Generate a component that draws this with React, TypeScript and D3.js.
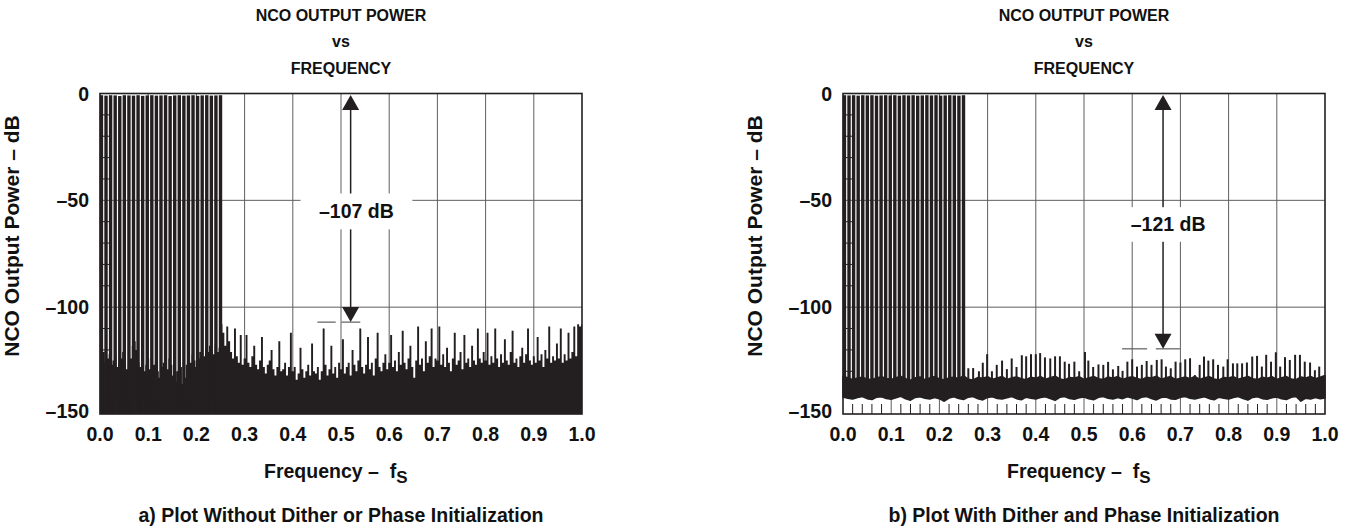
import React from "react";
import * as d3 from "d3";

const FONT = "'Liberation Sans', Arial, Helvetica, sans-serif";
const INK = "#231f20";
const GRID = "#5e5e5e";

// ---------- axes / text ----------
const yTickValues = [0, -50, -100, -150];
const yTickLabels = ["0", "–50", "–100", "–150"];
const yMinorTicks = [-10, -20, -30, -40, -60, -70, -80, -90, -110, -120, -130, -140];
const xTickValues = [0, 0.1, 0.2, 0.3, 0.4, 0.5, 0.6, 0.7, 0.8, 0.9, 1.0];
const xTickLabels = ["0.0", "0.1", "0.2", "0.3", "0.4", "0.5", "0.6", "0.7", "0.8", "0.9", "1.0"];
const xMinorTicks = [
  0.02, 0.04, 0.06, 0.08, 0.12, 0.14, 0.16, 0.18, 0.22, 0.24, 0.26, 0.28, 0.32, 0.34, 0.36, 0.38,
  0.42, 0.44, 0.46, 0.48, 0.52, 0.54, 0.56, 0.58, 0.62, 0.64, 0.66, 0.68, 0.72, 0.74, 0.76, 0.78,
  0.82, 0.84, 0.86, 0.88, 0.92, 0.94, 0.96, 0.98,
];
const xGrid = [0.1, 0.2, 0.3, 0.4, 0.5, 0.6, 0.7, 0.8, 0.9];
const yGrid = [-50, -100];

const titleLines = ["NCO OUTPUT POWER", "vs", "FREQUENCY"];
const yAxisTitle = "NCO Output Power – dB";
const xAxisTitle = "Frequency –  f";
const xAxisTitleSub = "S";
const captionA = "a) Plot Without Dither or Phase Initialization";
const captionB = "b) Plot With Dither and Phase Initialization";

// ---------- data: in-band tones (both plots) ----------
const toneFreqs = [
  0.003, 0.0125, 0.022, 0.0315, 0.041, 0.0505, 0.06, 0.0695, 0.079, 0.0885, 0.098, 0.1075, 0.117,
  0.1265, 0.136, 0.1455, 0.155, 0.1645, 0.174, 0.1835, 0.193, 0.2025, 0.212, 0.2215, 0.231, 0.2405, 0.25,
];
const toneLevelsA = [
  -0.8, -1.0, -0.8, -0.9, -1.2, -0.8, -0.9, -1.0, -0.8, -1.1, -0.9, -0.8, -1.0, -0.9,
  -0.8, -1.2, -0.9, -0.8, -1.0, -0.9, -0.8, -1.1, -0.9, -0.8, -1.0, -0.9, -0.8,
];
const toneLevelsB = [
  -0.8, -0.9, -0.8, -1.0, -0.8, -0.9, -0.8, -1.0, -0.9, -0.8, -0.9, -0.8, -1.0, -0.8,
  -0.9, -0.8, -1.0, -0.9, -0.8, -0.9, -0.8, -1.0, -0.9, -0.8, -0.9, -1.0, -0.8,
];

// ---------- data: plot a) noise spectrum, bins of 0.004 fs ----------
const noiseBinA = 0.004;
const noiseLevelsA = [
  -118, -120, -121, -126, -124, -122, -127, -125, -123, -128, -126, -124, -121, -125, -129, -127, -124, -118, -116, -120, -126, -128, -125, -130, -127,
  -124, -129, -131, -127, -125, -130, -133, -128, -126, -131, -129, -124, -127, -132, -135, -130, -126, -128, -136, -133, -127, -124, -126, -122, -125,
  -128, -124, -121, -125, -123, -119, -121, -118, -120, -122, -117, -121, -119, -108, -112, -118, -109, -116, -121, -124, -110, -123, -126, -113, -127,
  -124, -113, -126, -128, -123, -118, -127, -129, -125, -114, -128, -131, -127, -125, -120, -129, -132, -128, -116, -130, -129, -126, -132, -128, -112,
  -130, -128, -134, -131, -119, -129, -133, -130, -127, -132, -117, -130, -131, -128, -134, -130, -110, -127, -132, -129, -118, -131, -128, -133, -126,
  -129, -115, -131, -128, -126, -132, -120, -127, -130, -125, -110, -128, -131, -127, -114, -129, -126, -132, -124, -112, -128, -130, -126, -122, -129,
  -126, -113, -128, -125, -130, -121, -127, -111, -126, -129, -124, -118, -128, -133, -125, -109, -127, -124, -130, -116, -126, -123, -110, -128, -124,
  -125, -109, -127, -122, -128, -119, -126, -130, -124, -112, -127, -125, -121, -129, -113, -126, -124, -128, -118, -125, -127, -110, -124, -126, -121,
  -125, -112, -127, -123, -126, -110, -124, -128, -122, -126, -115, -125, -127, -121, -111, -126, -124, -128, -123, -119, -126, -122, -110, -125, -127,
  -123, -126, -114, -125, -122, -128, -120, -124, -109, -126, -123, -125, -117, -124, -110, -126, -122, -125, -112, -124, -121, -109, -123, -108, -109,
  -108,
];

// ---------- data: plot b) noise band edges, bins of 0.01 fs ----------
const bandBinB = 0.01;
const bandUpperB = [
  -132.5, -133, -134, -133.2, -132.8, -133.6, -134, -133, -132.6, -133.4,
  -133.8, -133, -132.4, -133.5, -134.2, -133.1, -132.7, -133.9, -133.2, -132.5,
  -133.6, -134, -133.1, -132.8, -133.4, -132.2, -133.7, -134.1, -132.9, -133.3,
  -132.6, -133.8, -133.2, -132.4, -133.9, -133.1, -132.7, -133.5, -134, -132.8,
  -133.3, -132.5, -133.7, -133, -132.3, -133.6, -134.1, -132.9, -133.2, -132.6,
  -133.8, -133.1, -132.4, -133.5, -133.9, -132.7, -133.3, -132.5, -133.8, -133,
  -132.6, -133.4, -134, -132.8, -133.2, -132.3, -133.7, -133.1, -132.5, -133.9,
  -133.3, -132.7, -133.5, -132.4, -133.8, -133, -132.6, -133.6, -134.1, -132.9,
  -133.2, -132.5, -133.7, -133.1, -132.4, -133.5, -133.9, -132.8, -133.3, -132.6,
  -133.8, -133, -132.5, -133.6, -134, -132.7, -133.2, -132.4, -133.5, -132.8, -132,
];
const bandLowerB = [
  -142, -142.6, -143, -142.3, -141.8, -142.8, -143.2, -142.1, -141.9, -142.7,
  -143.1, -142.4, -141.7, -142.9, -143.5, -142.2, -141.9, -142.6, -143, -142.3,
  -142.8, -144, -142.5, -141.9, -142.7, -143.2, -142.1, -141.8, -142.9, -143.4,
  -142.2, -141.9, -142.7, -143, -142.4, -141.8, -142.8, -143.3, -142.1, -142.6,
  -143, -142.3, -141.9, -142.8, -143.6, -142.2, -141.8, -142.7, -143.1, -142.4,
  -142, -142.9, -143.3, -142.2, -141.8, -142.6, -143, -142.3, -142.8, -141.9,
  -142.5, -143.2, -142.1, -141.8, -142.7, -143.4, -142.3, -142, -142.9, -143.1,
  -142.2, -141.8, -142.6, -143, -142.4, -141.9, -142.8, -143.3, -142.1, -142.6,
  -143, -142.3, -141.8, -142.7, -143.5, -142.2, -141.9, -142.8, -143.1, -142.4,
  -142, -142.9, -143.2, -142.2, -141.8, -144, -142.6, -143, -142.3, -142.8, -142.5,
];

// ---------- data: plot b) spurs above the band ----------
const spurFreqsB = [
  0.002, 0.26, 0.27, 0.282, 0.29, 0.299, 0.309, 0.319, 0.33, 0.34, 0.35, 0.36, 0.371, 0.38, 0.39,
  0.4, 0.409, 0.419, 0.43, 0.44, 0.45, 0.46, 0.469, 0.48, 0.49, 0.502, 0.509, 0.519, 0.53, 0.54,
  0.55, 0.56, 0.571, 0.58, 0.59, 0.6, 0.61, 0.62, 0.63, 0.64, 0.651, 0.661, 0.67, 0.68, 0.69,
  0.7, 0.71, 0.72, 0.73, 0.74, 0.749, 0.758, 0.768, 0.778, 0.789, 0.798, 0.809, 0.818, 0.828,
  0.838, 0.849, 0.859, 0.869, 0.878, 0.888, 0.898, 0.907, 0.917, 0.927, 0.938, 0.948, 0.958,
  0.969, 0.979, 0.988,
];
const spurLevelsB = [
  -124, -128.6, -128.5, -130, -126, -122, -130, -127, -125, -129, -124, -128, -122.5, -123, -122,
  -122, -121.5, -123.5, -124, -123, -123, -125.5, -126.5, -125.5, -130, -121, -125, -128, -126.8, -127,
  -125.6, -129.1, -127.5, -129.8, -125.5, -124.4, -127.8, -127, -125.2, -127, -124.7, -124.4, -127.8, -128.6, -125.5,
  -125.9, -124.4, -123.9, -131.8, -127, -123.1, -125, -124.4, -127, -127.8, -124.4, -126.3, -126.3, -126.3,
  -125.9, -123.1, -122.8, -127.8, -122.3, -125.5, -121.1, -127.8, -123.4, -124.7, -122.3, -122.3, -125.5,
  -125.9, -129.5, -127.8,
];

// ---------- annotations (data units) ----------
const annotA = {
  label: "–107 dB",
  arrowF: 0.52,
  level: -107,
  dash: [[0.451, 0.489], [0.501, 0.54]],
  boxF: [0.416, 0.648],
  boxDb: [-46.8, -63.6],
};
const annotB = {
  label: "–121 dB",
  arrowF: 0.664,
  level: -119.5,
  dash: [[0.579, 0.631], [0.649, 0.699]],
  boxF: [0.575, 0.774],
  boxDb: [-53.2, -69.4],
};

const PLOT_W = 482;
const TOP = 93.5;
const BOTTOM = 414;
const FS = 19.5;
const TITLE_FS = 16;

function Panel({ left, variant }: { left: number; variant: "A" | "B" }) {
  const x = d3.scaleLinear().domain([0, 1]).range([left, left + PLOT_W]);
  const y = d3.scaleLinear().domain([0, -150]).range([TOP, BOTTOM]);
  const cx = left + PLOT_W / 2;
  const annot = variant === "A" ? annotA : annotB;
  const toneLevels = variant === "A" ? toneLevelsA : toneLevelsB;

  let spectrum: React.ReactNode = null;
  if (variant === "A") {
    const area = d3
      .area<number>()
      .x((_, i) => x(i * noiseBinA))
      .y0(y(-150))
      .y1((d) => y(d))
      .curve(d3.curveStep);
    spectrum = (
      <g>
        <path d={area(noiseLevelsA) || ""} fill={INK} />
        {toneFreqs.map((f, i) => (
          <rect key={i} x={x(f) - 1.7} width={3.4} y={y(toneLevels[i])} height={y(-150) - y(toneLevels[i])} fill={INK} />
        ))}
      </g>
    );
  } else {
    const band = d3
      .area<number>()
      .x((_, i) => x(i * bandBinB))
      .y0((_, i) => y(bandLowerB[i]))
      .y1((d) => y(d));
    spectrum = (
      <g>
        {toneFreqs.map((f, i) => (
          <rect key={i} x={x(f) - 1.7} width={3.4} y={y(toneLevels[i])} height={y(-137) - y(toneLevels[i])} fill={INK} />
        ))}
        {spurFreqsB.map((f, i) => (
          <line key={"s" + i} x1={x(f)} x2={x(f)} y1={y(spurLevelsB[i])} y2={y(-137)} stroke={INK} strokeWidth={2} />
        ))}
        <path d={band(bandUpperB) || ""} fill={INK} stroke={INK} strokeWidth={1.6} strokeLinejoin="round" />
      </g>
    );
  }

  const ax = x(annot.arrowF);
  const tipTop = y(0) + 1.5;
  const tipBot = y(annot.level);
  const bx0 = x(annot.boxF[0]);
  const bx1 = x(annot.boxF[1]);
  const by0 = y(annot.boxDb[0]);
  const by1 = y(annot.boxDb[1]);

  return (
    <g fontFamily={FONT} fontWeight="bold" fill="#111">
      {/* titles */}
      {titleLines.map((t, i) => (
        <text key={i} x={cx} y={[21, 47, 74][i]} textAnchor="middle" fontSize={TITLE_FS} fill="#111">
          {t}
        </text>
      ))}
      {/* grid */}
      {xGrid.map((g) => (
        <line key={"gx" + g} x1={x(g)} x2={x(g)} y1={TOP} y2={BOTTOM} stroke={GRID} strokeWidth={1} />
      ))}
      {yGrid.map((g) => (
        <line key={"gy" + g} x1={left} x2={left + PLOT_W} y1={y(g)} y2={y(g)} stroke={GRID} strokeWidth={1} />
      ))}
      {spectrum}
      {/* annotation */}
      <line x1={x(annot.dash[0][0])} x2={x(annot.dash[0][1])} y1={tipBot} y2={tipBot} stroke={GRID} strokeWidth={1.2} />
      <line x1={x(annot.dash[1][0])} x2={x(annot.dash[1][1])} y1={tipBot} y2={tipBot} stroke={GRID} strokeWidth={1.2} />
      <line x1={ax} x2={ax} y1={tipTop + 14} y2={tipBot - 14} stroke={INK} strokeWidth={1.5} />
      <path d={`M${ax},${tipTop} L${ax - 8.5},${tipTop + 15} L${ax + 8.5},${tipTop + 15} Z`} fill={INK} />
      <path d={`M${ax},${tipBot} L${ax - 8.5},${tipBot - 15} L${ax + 8.5},${tipBot - 15} Z`} fill={INK} />
      <rect x={bx0} y={by0} width={bx1 - bx0} height={by1 - by0} fill="#fff" />
      <text x={(bx0 + bx1) / 2} y={(by0 + by1) / 2 + 7} textAnchor="middle" fontSize={FS} fill="#111">
        {annot.label}
      </text>
      {/* minor ticks */}
      {yMinorTicks.map((t) => (
        <line key={"my" + t} x1={left} x2={left + 10} y1={y(t)} y2={y(t)} stroke={INK} strokeWidth={1} />
      ))}
      {xMinorTicks.map((t) => (
        <line key={"mx" + t} x1={x(t)} x2={x(t)} y1={BOTTOM} y2={BOTTOM - 10} stroke={INK} strokeWidth={1} />
      ))}
      {/* frame */}
      <rect x={left} y={TOP} width={PLOT_W} height={BOTTOM - TOP} fill="none" stroke={INK} strokeWidth={1.6} />
      {/* tick labels */}
      {yTickValues.map((v, i) => (
        <text key={"yl" + v} x={left - 11} y={y(v) + (v === -150 ? 3.5 : 7)} textAnchor="end" fontSize={FS} fill="#111">
          {yTickLabels[i]}
        </text>
      ))}
      {xTickValues.map((v, i) => (
        <text key={"xl" + v} x={x(v)} y={441} textAnchor="middle" fontSize={FS} fill="#111">
          {xTickLabels[i]}
        </text>
      ))}
      {/* axis titles */}
      <text
        transform={`translate(${left - 81},${236}) rotate(-90)`}
        textAnchor="middle"
        fontSize={21}
        fill="#111"
      >
        {yAxisTitle}
      </text>
      <text x={left + 164} y={478} fontSize={FS} fill="#111" style={{ whiteSpace: "pre" }}>
        {xAxisTitle}
        <tspan fontSize={17} dy={5}>
          {xAxisTitleSub}
        </tspan>
      </text>
      <text x={cx} y={522} textAnchor="middle" fontSize={FS} fill="#111">
        {variant === "A" ? captionA : captionB}
      </text>
    </g>
  );
}

export default function App() {
  return (
    <svg
      width={1346}
      height={527}
      viewBox="0 0 1346 527"
      style={{ position: "absolute", left: 0, top: 0, background: "#fff" }}
    >
      <rect width={1346} height={527} fill="#fff" />
      <Panel left={100} variant="A" />
      <Panel left={843} variant="B" />
    </svg>
  );
}
